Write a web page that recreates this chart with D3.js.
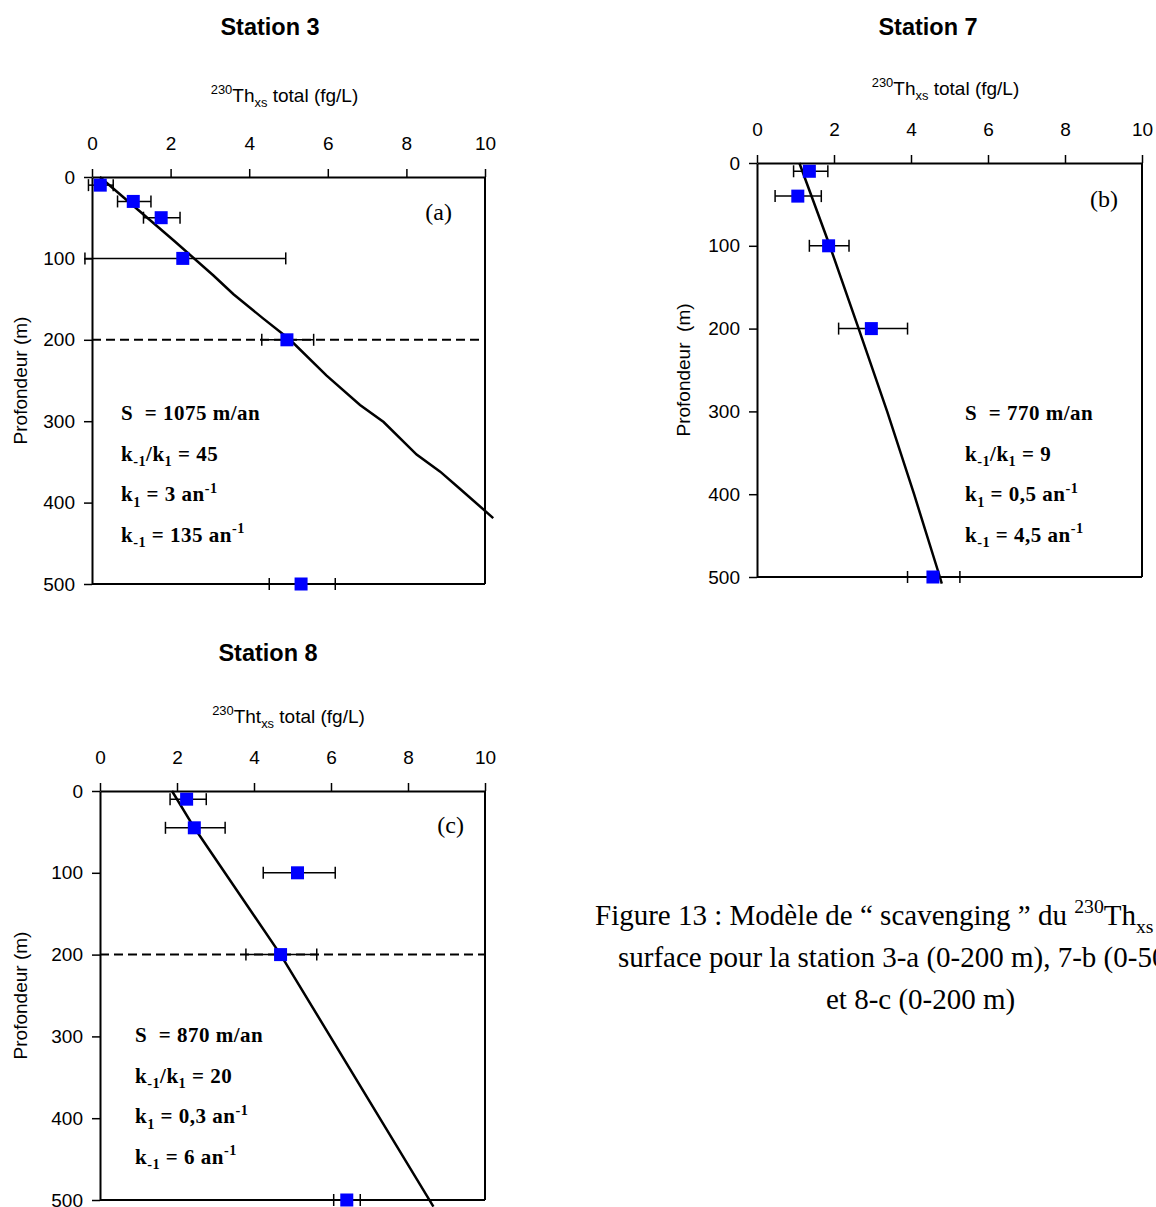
<!DOCTYPE html>
<html><head><meta charset="utf-8">
<script src="https://cdn.jsdelivr.net/npm/d3@7"></script>
<style>
body{margin:0;background:#fff}
svg{display:block}
text{white-space:pre}
</style>
</head><body>
<svg id="c" width="1156" height="1207"></svg>
<script>
// ---------- data ----------
const xTicks = [0, 2, 4, 6, 8, 10];
const yTicks = [0, 100, 200, 300, 400, 500];

// Station 3 (a)
const st3Depth = [10, 30, 50, 100, 200, 500];
const st3Conc = [0.21, 1.05, 1.76, 2.31, 4.96, 5.32];
const st3ErrLow = [-0.09, 0.65, 1.31, -0.18, 4.32, 4.51];
const st3ErrHigh = [0.54, 1.50, 2.24, 4.93, 5.64, 6.19];
const st3ModelDepth = [0, 78, 121, 144, 174, 200, 244, 280, 301, 341, 362, 383, 419];
const st3ModelConc = [0.2, 2.08, 3.09, 3.60, 4.36, 5.04, 5.97, 6.82, 7.42, 8.26, 8.86, 9.36, 10.21];

// Station 7 (b)
const st7Depth = [10, 40, 100, 200, 500];
const st7Conc = [1.36, 1.06, 1.86, 2.97, 4.57];
const st7ErrLow = [0.95, 0.47, 1.36, 2.12, 3.91];
const st7ErrHigh = [1.84, 1.67, 2.39, 3.91, 5.27];
const st7ModelDepth = [0, 100, 200, 300, 400, 500, 508];
const st7ModelConc = [1.10, 1.89, 2.64, 3.38, 4.08, 4.75, 4.80];

// Station 8 (c)
const st8Depth = [10, 45, 100, 200, 500];
const st8Conc = [2.25, 2.45, 5.13, 4.69, 6.41];
const st8ErrLow = [1.82, 1.70, 4.24, 3.79, 6.07];
const st8ErrHigh = [2.76, 3.25, 6.11, 5.63, 6.76];
const st8ModelDepth = [0, 45, 200, 508];
const st8ModelConc = [1.87, 2.45, 4.69, 8.66];

// texts
const st3Params = [
  [["S  = 1075 m/an", ""]],
  [["k", ""], ["-1", "sub"], ["/k", ""], ["1", "sub"], [" = 45", ""]],
  [["k", ""], ["1", "sub"], [" = 3 an", ""], ["-1", "sup"]],
  [["k", ""], ["-1", "sub"], [" = 135 an", ""], ["-1", "sup"]]
];
const st7Params = [
  [["S  = 770 m/an", ""]],
  [["k", ""], ["-1", "sub"], ["/k", ""], ["1", "sub"], [" = 9", ""]],
  [["k", ""], ["1", "sub"], [" = 0,5 an", ""], ["-1", "sup"]],
  [["k", ""], ["-1", "sub"], [" = 4,5 an", ""], ["-1", "sup"]]
];
const st8Params = [
  [["S  = 870 m/an", ""]],
  [["k", ""], ["-1", "sub"], ["/k", ""], ["1", "sub"], [" = 20", ""]],
  [["k", ""], ["1", "sub"], [" = 0,3 an", ""], ["-1", "sup"]],
  [["k", ""], ["-1", "sub"], [" = 6 an", ""], ["-1", "sup"]]
];
const axisTitleTh = [["230", "sup"], ["Th", ""], ["xs", "sub"], [" total (fg/L)", ""]];
const axisTitleTht = [["230", "sup"], ["Tht", ""], ["xs", "sub"], [" total (fg/L)", ""]];
const captionLines = [
  [["Figure 13 : Modèle de \u201C scavenging \u201D du ", ""], ["230", "sup"], ["Th", ""], ["xs", "sub"], [" de", ""]],
  [["surface pour la station 3-a (0-200 m), 7-b (0-500 m)", ""]],
  [["et 8-c (0-200 m)", ""]]
];

// ---------- drawing ----------
const svg = d3.select("#c");
const SANS = "'Liberation Sans', Arial, sans-serif";
const SERIF = "'Liberation Serif', 'Times New Roman', serif";

function rich(sel, parts, size) {
  let shift = 0;
  parts.forEach(([s, t]) => {
    const target = t === "sup" ? -0.4 * size : t === "sub" ? 0.28 * size : 0;
    const ts = sel.append("tspan").attr("dy", target - shift).text(s);
    if (t) ts.attr("font-size", size * 0.68);
    shift = target;
  });
}

function panel(cfg) {
  const g = svg.append("g");
  const x = d3.scaleLinear().domain([0, 10]).range([cfg.left, cfg.right]);
  const y = d3.scaleLinear().domain([0, 500]).range([cfg.top, cfg.bottom]);

  // title
  g.append("text").attr("x", cfg.titleX).attr("y", cfg.titleY)
    .attr("text-anchor", "middle").attr("font-family", SANS)
    .attr("font-weight", "bold").attr("font-size", 23.5).text(cfg.title);

  // axis title
  const at = g.append("text").attr("x", (cfg.left + cfg.right) / 2 - 4).attr("y", cfg.top - cfg.axisTitleOff)
    .attr("text-anchor", "middle").attr("font-family", SANS).attr("font-size", 19);
  rich(at, cfg.axisTitle, 19);

  // y label
  g.append("text")
    .attr("transform", `translate(${cfg.ylabX},${(cfg.top + cfg.bottom) / 2}) rotate(-90)`)
    .attr("text-anchor", "middle").attr("font-family", SANS).attr("font-size", 19)
    .text(cfg.ylabel);

  // frame (right + bottom)
  g.append("line").attr("x1", x(10)).attr("x2", x(10)).attr("y1", y(0)).attr("y2", y(500))
    .attr("stroke", "#000").attr("stroke-width", 2);
  g.append("line").attr("x1", x(0)).attr("x2", x(10)).attr("y1", y(500)).attr("y2", y(500))
    .attr("stroke", "#000").attr("stroke-width", 2);

  // axes
  const xa = d3.axisTop(x).tickValues(xTicks).tickSize(8).tickSizeOuter(0).tickPadding(19)
    .tickFormat(d3.format("d"));
  const gx = g.append("g").attr("transform", `translate(0,${cfg.top})`).call(xa);
  const ya = d3.axisLeft(y).tickValues(yTicks).tickSize(8).tickSizeOuter(0).tickPadding(9)
    .tickFormat(d3.format("d"));
  const gy = g.append("g").attr("transform", `translate(${cfg.left},0)`).call(ya);
  [gx, gy].forEach(a => {
    a.selectAll("path").attr("stroke-width", 2);
    a.selectAll("line").attr("stroke-width", 1.5);
    a.selectAll("text").attr("font-family", SANS).attr("font-size", 19).attr("fill", "#000");
  });

  // dashed 200 m line
  if (cfg.dashed) {
    g.append("line").attr("x1", x(0)).attr("x2", x(10)).attr("y1", y(200)).attr("y2", y(200))
      .attr("stroke", "#000").attr("stroke-width", 2).attr("stroke-dasharray", "9,5");
  }

  // model curve
  const model = cfg.modelDepth.map((d, i) => [cfg.modelConc[i], d]);
  g.append("path").datum(model)
    .attr("d", d3.line().x(d => x(d[0])).y(d => y(d[1])))
    .attr("fill", "none").attr("stroke", "#000").attr("stroke-width", 2.5);

  // error bars
  const pts = cfg.depth.map((d, i) => ({ d, c: cfg.conc[i], lo: cfg.lo[i], hi: cfg.hi[i] }));
  const eb = g.append("g").attr("stroke", "#000").attr("stroke-width", 1.5);
  pts.forEach(p => {
    eb.append("line").attr("x1", x(p.lo)).attr("x2", x(p.hi)).attr("y1", y(p.d)).attr("y2", y(p.d));
    [p.lo, p.hi].forEach(v => {
      eb.append("line").attr("x1", x(v)).attr("x2", x(v)).attr("y1", y(p.d) - 6).attr("y2", y(p.d) + 6);
    });
  });

  // markers
  g.append("g").selectAll("rect").data(pts).join("rect")
    .attr("x", p => x(p.c) - 6.5).attr("y", p => y(p.d) - 6.5)
    .attr("width", 13).attr("height", 13).attr("fill", "#0000FF");

  // panel letter
  g.append("text").attr("x", x(10) - cfg.letterDx).attr("y", y(0) + cfg.letterDy)
    .attr("text-anchor", "end").attr("font-family", SERIF).attr("font-size", 24).text(cfg.letter);

  // parameters
  cfg.params.forEach((line, i) => {
    const t = g.append("text").attr("x", cfg.parX).attr("y", cfg.parY + i * 40.5)
      .attr("font-family", SERIF).attr("font-weight", "bold").attr("font-size", 21)
      .attr("letter-spacing", 0.5);
    rich(t, line, 21);
  });
}

panel({
  title: "Station 3", titleX: 270, titleY: 35, axisTitle: axisTitleTh, axisTitleOff: 75,
  ylabel: "Profondeur (m)", ylabX: 27,
  left: 92, right: 485, top: 177, bottom: 584,
  depth: st3Depth, conc: st3Conc, lo: st3ErrLow, hi: st3ErrHigh,
  modelDepth: st3ModelDepth, modelConc: st3ModelConc, dashed: true,
  letter: "(a)", letterDx: 33, letterDy: 43,
  params: st3Params, parX: 121, parY: 420
});
panel({
  title: "Station 7", titleX: 928, titleY: 35, axisTitle: axisTitleTh, axisTitleOff: 68,
  ylabel: "Profondeur  (m)", ylabX: 690,
  left: 757, right: 1142, top: 163, bottom: 577,
  depth: st7Depth, conc: st7Conc, lo: st7ErrLow, hi: st7ErrHigh,
  modelDepth: st7ModelDepth, modelConc: st7ModelConc, dashed: false,
  letter: "(b)", letterDx: 24, letterDy: 44,
  params: st7Params, parX: 965, parY: 420
});
panel({
  title: "Station 8", titleX: 268, titleY: 661, axisTitle: axisTitleTht, axisTitleOff: 68,
  ylabel: "Profondeur (m)", ylabX: 27,
  left: 100, right: 485, top: 791, bottom: 1200,
  depth: st8Depth, conc: st8Conc, lo: st8ErrLow, hi: st8ErrHigh,
  modelDepth: st8ModelDepth, modelConc: st8ModelConc, dashed: true,
  letter: "(c)", letterDx: 21, letterDy: 42,
  params: st8Params, parX: 135, parY: 1042
});

// caption
const capX = [595, 618, 826];
const capY = [925, 967, 1009];
captionLines.forEach((line, i) => {
  const t = svg.append("text").attr("x", capX[i]).attr("y", capY[i])
    .attr("font-family", SERIF).attr("font-size", 29);
  rich(t, line, 29);
});
</script>
</body></html>
